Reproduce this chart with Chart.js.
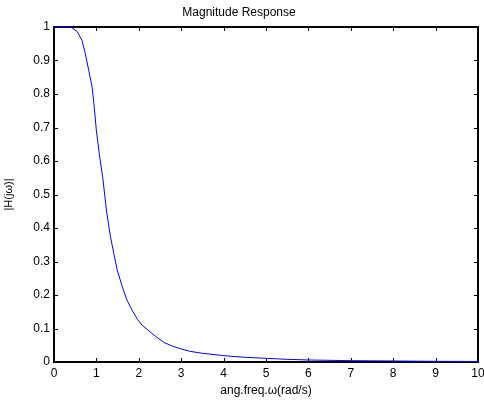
<!DOCTYPE html>
<html>
<head>
<meta charset="utf-8">
<title>Magnitude Response</title>
<script src="https://cdn.jsdelivr.net/npm/chart.js@4.4.1/dist/chart.umd.min.js"></script>
<style>
  html, body { margin: 0; padding: 0; background: #fff; }
  canvas { display: block; }
</style>
</head>
<body>
<canvas id="magChart" width="484" height="403"></canvas>
<script>
// frequency samples (rad/s) and |H(jw)|
const omega = [0, 0.2, 0.4, 0.55, 0.66, 0.74, 0.82, 0.9, 0.95, 1.0, 1.07, 1.15, 1.24, 1.33,
  1.41, 1.49, 1.61, 1.72, 1.84, 1.97, 2.08, 2.2, 2.4, 2.6, 2.8, 3.0, 3.2, 3.5, 4.0, 4.5,
  5.0, 5.5, 6.0, 7.0, 8.0, 9.0, 10.0];
const magnitude = [1, 1, 1, 0.986, 0.96, 0.92, 0.87, 0.82, 0.76, 0.69, 0.62, 0.55, 0.45, 0.375,
  0.324, 0.275, 0.225, 0.185, 0.155, 0.127, 0.11, 0.097, 0.076, 0.058, 0.047, 0.039, 0.032, 0.026, 0.019, 0.014,
  0.011, 0.008, 0.006, 0.004, 0.003, 0.002, 0.0015];

const xTickLabels = ['0', '1', '2', '3', '4', '5', '6', '7', '8', '9', '10'];
const yTickLabels = ['0', '0.1', '0.2', '0.3', '0.4', '0.5', '0.6', '0.7', '0.8', '0.9', '1'];

const FONT = "'Liberation Sans', Arial, sans-serif";

// matlab-style axes box with inward ticks on all four sides
const boxPlugin = {
  id: 'axesBox',
  beforeDatasetsDraw(chart) {
    const { ctx, chartArea: a, scales } = chart;
    const len = 4;
    ctx.save();
    ctx.strokeStyle = '#000';
    ctx.lineWidth = 1;
    ctx.beginPath();
    scales.x.ticks.forEach(t => {
      const px = Math.round(scales.x.getPixelForValue(t.value)) + 0.5;
      ctx.moveTo(px, a.bottom); ctx.lineTo(px, a.bottom - len);
      ctx.moveTo(px, a.top); ctx.lineTo(px, a.top + len);
    });
    scales.y.ticks.forEach(t => {
      const py = Math.round(scales.y.getPixelForValue(t.value)) + 0.5;
      ctx.moveTo(a.left, py); ctx.lineTo(a.left + len, py);
      ctx.moveTo(a.right, py); ctx.lineTo(a.right - len, py);
    });
    ctx.stroke();
    ctx.lineWidth = 2;
    ctx.strokeRect(a.left, a.top, a.right - a.left, a.bottom - a.top);
    ctx.restore();
  }
};

new Chart(document.getElementById('magChart'), {
  type: 'line',
  data: {
    datasets: [{
      data: omega.map((w, i) => ({ x: w, y: magnitude[i] })),
      borderColor: '#0000ff',
      borderWidth: 1,
      pointRadius: 0,
      tension: 0,
      fill: false,
      clip: 2
    }]
  },
  options: {
    responsive: false,
    animation: false,
    layout: { padding: { left: 0, right: 6, top: 0, bottom: 0 } },
    plugins: {
      legend: { display: false },
      tooltip: { enabled: false },
      title: {
        display: true,
        text: 'Magnitude Response',
        color: '#000',
        font: { family: FONT, size: 12, weight: 'normal' },
        padding: { top: 5, bottom: 7.6 }
      }
    },
    scales: {
      x: {
        type: 'linear',
        min: 0,
        max: 10,
        grid: { display: false, drawTicks: false },
        border: { display: false },
        ticks: {
          stepSize: 1,
          padding: 4,
          maxRotation: 0,
          color: '#000',
          font: { family: FONT, size: 12 },
          callback: (v, i) => xTickLabels[i]
        },
        title: {
          display: true,
          text: 'ang.freq.ω(rad/s)',
          color: '#000',
          font: { family: FONT, size: 12 },
          padding: { top: 0, bottom: 5 }
        },
        afterFit(scale) {
          scale.height = 41;
          scale.paddingLeft = 0;
          scale.paddingRight = 0;
        }
      },
      y: {
        min: 0,
        max: 1,
        grid: { display: false, drawTicks: false },
        border: { display: false },
        ticks: {
          stepSize: 0.1,
          padding: 4,
          color: '#000',
          font: { family: FONT, size: 12 },
          callback: (v, i) => yTickLabels[i]
        },
        title: {
          display: true,
          text: '|H(jω)|',
          color: '#000',
          font: { family: FONT, size: 11 },
          padding: { top: 2, bottom: 0 }
        },
        afterFit(scale) {
          scale.width = 54;
          scale.paddingTop = 0;
          scale.paddingBottom = 0;
        }
      }
    }
  },
  plugins: [boxPlugin]
});
</script>
</body>
</html>
